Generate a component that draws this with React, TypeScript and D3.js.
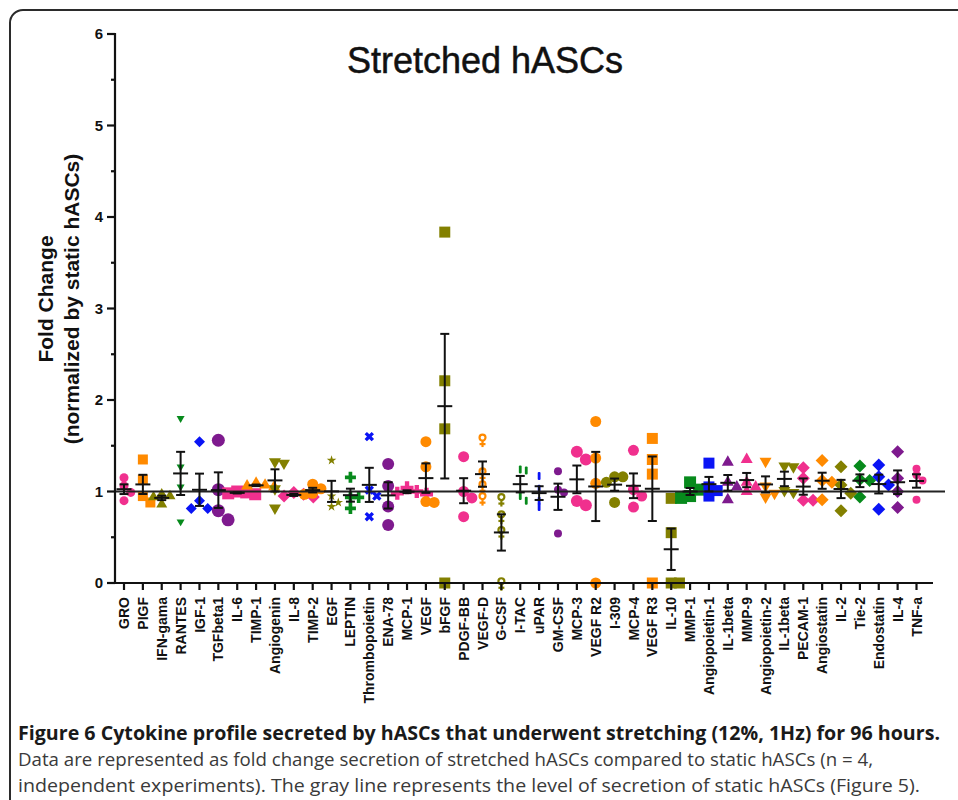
import * as d3 from "d3";

// 43 cytokines along the x axis (note IL-1beta appears twice in the original)
const CATEGORIES = [
  "GRO", "PIGF", "IFN-gama", "RANTES", "IGF-1", "TGFbeta1", "IL-6", "TIMP-1",
  "Angiogenin", "IL-8", "TIMP-2", "EGF", "LEPTIN", "Thrombopoietin", "ENA-78",
  "MCP-1", "VEGF", "bFGF", "PDGF-BB", "VEGF-D", "G-CSF", "I-TAC", "uPAR",
  "GM-CSF", "MCP-3", "VEGF R2", "I-309", "MCP-4", "VEGF R3", "IL-10", "MMP-1",
  "Angiopoietin-1", "IL-1beta", "MMP-9", "Angiopoietin-2", "IL-1beta", "PECAM-1",
  "Angiostatin", "IL-2", "Tie-2", "Endostatin", "IL-4", "TNF-a",
];

const FOLD_CHANGE: number[][] = [
  [1.15, 1.06, 0.9, 0.99],
  [1.35, 1.13, 0.88, 0.95],
  [0.97, 0.95, 0.94, 0.86],
  [1.8, 1.27, 1.05, 0.67],
  [1.545, 0.9, 0.815, 0.815],
  [1.56, 1.02, 0.79, 0.69],
  [0.99, 0.98, 0.97, 1.0],
  [1.09, 1.06, 1.07, 1.05],
  [1.31, 1.325, 1.03, 0.82],
  [0.99, 0.97, 0.95, 0.94],
  [1.08, 1.03, 0.98, 0.97],
  [1.34, 0.95, 0.835, 0.88],
  [1.155, 0.935, 0.935, 0.815],
  [1.6, 1.015, 0.95, 0.725],
  [1.3, 1.06, 0.835, 0.635],
  [1.04, 1.0, 0.97, 0.98],
  [1.545, 1.27, 0.88, 0.89],
  [3.835, 2.21, 1.685, 0],
  [1.38, 1.0, 0.93, 0.725],
  [1.57, 1.2, 1.06, 0.93],
  [0.92, 0.73, 0.56, 0],
  [1.24, 1.23, 0.95, 0.9],
  [1.17, 1.03, 0.9, 0.83],
  [1.22, 1.02, 0.99, 0.54],
  [1.435, 1.35, 0.85, 0.895],
  [1.765, 1.365, 1.09, 0],
  [1.16, 1.16, 1.1, 0.88],
  [1.45, 1.02, 0.95, 0.83],
  [1.58, 1.35, 1.19, 0],
  [0.925, 0.55, 0, 0],
  [1.1, 1.02, 0.95, 0.93],
  [1.31, 1.05, 1.01, 0.95],
  [1.32, 1.1, 1.05, 0.91],
  [1.35, 1.1, 1.05, 1.0],
  [1.33, 1.06, 0.98, 0.94],
  [1.28, 1.27, 1.01, 0.99],
  [1.26, 1.145, 0.905, 0.905],
  [1.34, 1.12, 1.1, 0.91],
  [1.27, 1.07, 0.98, 0.79],
  [1.28, 1.13, 1.12, 0.94],
  [1.29, 1.16, 1.07, 0.805],
  [1.435, 1.145, 1.0, 0.825],
  [1.25, 1.18, 1.12, 0.91],
];

const Y_TICKS = [0, 1, 2, 3, 4, 5, 6];
const BASELINE = 1;

const PINK = "#f0308e";
const ORANGE = "#ff8a00";
const OLIVE = "#838000";
const GREEN = "#078a1c";
const BLUE = "#0a14f5";
const PURPLE = "#7e1a8e";

const COLORS = [
  PINK, ORANGE, OLIVE, GREEN, BLUE, PURPLE, PINK, ORANGE, OLIVE, PINK, ORANGE,
  OLIVE, GREEN, BLUE, PURPLE, PINK, ORANGE, OLIVE, PINK, ORANGE, OLIVE, GREEN,
  BLUE, PURPLE, PINK, ORANGE, OLIVE, PINK, ORANGE, OLIVE, GREEN, BLUE, PURPLE,
  PINK, ORANGE, OLIVE, PINK, ORANGE, OLIVE, GREEN, BLUE, PURPLE, PINK,
];

type Shape = "circle" | "square" | "tri" | "triDown" | "diamond" | "star" | "plus" | "x" | "female" | "dash";

const SHAPES: Shape[] = [
  "circle", "square", "tri", "triDown", "diamond", "circle", "square", "tri",
  "triDown", "diamond", "circle", "star", "plus", "x", "circle", "plus", "circle",
  "square", "circle", "female", "female", "dash", "dash", "circle", "circle",
  "circle", "circle", "circle", "square", "square", "square", "square", "tri",
  "tri", "triDown", "triDown", "diamond", "diamond", "diamond", "diamond",
  "diamond", "diamond", "circle",
];

const SIZES = [
  9, 10, 11, 8, 11, 13, 12, 12, 12, 13, 11, 9, 11, 10, 12, 13, 11, 11, 11, 9, 9,
  8, 8, 8, 12, 11, 11, 11, 11, 11, 12, 11, 12, 12, 12, 12, 13, 13, 13, 13, 13, 13, 8,
];

const FONT = "'Liberation Sans', Arial, sans-serif";

const W = 958;
const H = 800;

const x = d3
  .scalePoint<string>()
  .domain(CATEGORIES.map((_, i) => String(i)))
  .range([124, 916.5]);

const y = d3.scaleLinear().domain([0, 6]).range([583, 34]);

const AXIS_LEFT = 115;
const AXIS_RIGHT = 933;

function markerPath(shape: Shape, s: number): string {
  switch (shape) {
    case "circle":
      return d3.symbol(d3.symbolCircle, (Math.PI * s * s) / 4)()!;
    case "square":
      return d3.symbol(d3.symbolSquare, s * s)()!;
    case "tri":
    case "triDown":
      return d3.symbol(d3.symbolTriangle, (Math.sqrt(3) / 4) * s * s)()!;
    case "diamond":
      return d3.symbol(d3.symbolSquare, (s * s) / 2)()!;
    case "star":
      return d3.symbol(d3.symbolStar, s * s * 0.35)()!;
    case "plus":
    case "x":
      return d3.symbol(d3.symbolCross, (5 * s * s) / 9)()!;
    default:
      return "";
  }
}

function rotation(shape: Shape) {
  if (shape === "triDown") return 180;
  if (shape === "diamond" || shape === "x") return 45;
  return 0;
}

// spread points that would overlap, like a column scatter plot
function swarm(values: number[], s: number) {
  const order = values.map((v, i) => ({ v, i })).sort((a, b) => b.v - a.v);
  const placed: { dx: number; py: number }[] = [];
  const step = s * 0.75;
  for (const { v } of order) {
    const py = y(v);
    let dx = 0;
    for (const k of [0, 1, -1, 2, -2, 3, -3]) {
      const cand = k * step;
      const hit = placed.some((p) => Math.abs(p.dx - cand) < step && Math.abs(p.py - py) < step);
      if (!hit) {
        dx = cand;
        break;
      }
    }
    placed.push({ dx, py });
  }
  return placed;
}

function Marker({ shape, color, s, cx, cy }: { shape: Shape; color: string; s: number; cx: number; cy: number }) {
  if (shape === "female") {
    const r = s * 0.33;
    return (
      <g transform={`translate(${cx},${cy})`} stroke={color} fill="none" strokeWidth={2.2}>
        <circle cx={0} cy={-r * 0.6} r={r} />
        <line x1={0} y1={r * 0.4} x2={0} y2={r * 2.6} />
        <line x1={-r} y1={r * 1.6} x2={r} y2={r * 1.6} />
      </g>
    );
  }
  if (shape === "dash") {
    return <rect x={cx - 1.4} y={cy - 4} width={2.8} height={8} rx={1} fill={color} />;
  }
  return (
    <path
      d={markerPath(shape, s)}
      transform={`translate(${cx},${cy}) rotate(${rotation(shape)})`}
      fill={color}
    />
  );
}

export default function App() {
  const yMinor = d3.range(0, 6.01, 0.5).filter((t) => !Number.isInteger(t));

  return (
    <svg
      width={W}
      height={H}
      viewBox={`0 0 ${W} ${H}`}
      style={{ position: "absolute", left: 0, top: 0, background: "#fff" }}
      fontFamily={FONT}
    >
      <rect x={10} y={10} width={980} height={830} rx={13} fill="#fff" stroke="#2b2b2b" strokeWidth={2} />

      <text x={485} y={73} textAnchor="middle" fontSize={36} fill="#111" stroke="#111" strokeWidth={0.5}>
        Stretched hASCs
      </text>

      {/* y axis title */}
      <g transform="translate(53,299) rotate(-90)">
        <text textAnchor="middle" fontSize={21} fontWeight="bold" fill="#111">
          Fold Change
        </text>
      </g>
      <g transform="translate(79,299) rotate(-90)">
        <text textAnchor="middle" fontSize={21} fontWeight="bold" fill="#111">
          (normalized by static hASCs)
        </text>
      </g>

      {/* points */}
      {FOLD_CHANGE.map((vals, ci) => {
        const cx = x(String(ci))!;
        const s = SIZES[ci];
        return (
          <g key={`pts-${ci}`}>
            {swarm(vals, s).map((p, pi) => (
              <Marker key={pi} shape={SHAPES[ci]} color={COLORS[ci]} s={s} cx={cx + p.dx} cy={p.py} />
            ))}
          </g>
        );
      })}

      {/* static level */}
      <line x1={AXIS_LEFT} x2={945} y1={y(BASELINE)} y2={y(BASELINE)} stroke="#222" strokeWidth={2} />

      {/* mean ± SEM */}
      {FOLD_CHANGE.map((vals, ci) => {
        const cx = x(String(ci))!;
        const m = d3.mean(vals)!;
        const sem = d3.deviation(vals)! / Math.sqrt(vals.length);
        return (
          <g key={`err-${ci}`} stroke="#111" strokeWidth={2} fill="none">
            <line x1={cx} x2={cx} y1={y(m + sem)} y2={y(m - sem)} />
            <line x1={cx - 4.5} x2={cx + 4.5} y1={y(m + sem)} y2={y(m + sem)} />
            <line x1={cx - 4.5} x2={cx + 4.5} y1={y(m - sem)} y2={y(m - sem)} />
            <line x1={cx - 7.5} x2={cx + 7.5} y1={y(m)} y2={y(m)} />
          </g>
        );
      })}

      {/* y axis */}
      <g stroke="#111" strokeWidth={2.2}>
        <line x1={AXIS_LEFT} x2={AXIS_LEFT} y1={y(6) - 1} y2={y(0) + 1} />
        {Y_TICKS.map((t) => (
          <line key={t} x1={AXIS_LEFT - 8} x2={AXIS_LEFT} y1={y(t)} y2={y(t)} />
        ))}
        {yMinor.map((t) => (
          <line key={t} x1={AXIS_LEFT - 4} x2={AXIS_LEFT} y1={y(t)} y2={y(t)} />
        ))}
      </g>
      {Y_TICKS.map((t) => (
        <text key={t} x={103} y={y(t)} dy="0.36em" textAnchor="end" fontSize={15} fontWeight="bold" fill="#111">
          {t}
        </text>
      ))}

      {/* x axis */}
      <g stroke="#111" strokeWidth={2.2}>
        <line x1={AXIS_LEFT - 1} x2={AXIS_RIGHT} y1={y(0)} y2={y(0)} />
        {CATEGORIES.map((_, ci) => (
          <line key={ci} x1={x(String(ci))!} x2={x(String(ci))!} y1={y(0)} y2={y(0) + 7} />
        ))}
      </g>
      {CATEGORIES.map((c, ci) => (
        <g key={ci} transform={`translate(${x(String(ci))},597) rotate(-90)`}>
          <text textAnchor="end" dy="0.36em" fontSize={14} fontWeight="bold" fill="#111">
            {c}
          </text>
        </g>
      ))}

      {/* caption */}
      <text
        x={18}
        y={740}
        fontFamily="'Open Sans', sans-serif"
        fontWeight="bold"
        fontSize={19}
        fill="#1a1a1a"
        textLength={922}
        lengthAdjust="spacingAndGlyphs"
      >
        Figure 6 Cytokine profile secreted by hASCs that underwent stretching (12%, 1Hz) for 96 hours.
      </text>
      <text
        x={18}
        y={766}
        fontFamily="'Open Sans', sans-serif"
        fontSize={18}
        fill="#3a3a3a"
        textLength={855}
        lengthAdjust="spacingAndGlyphs"
      >
        Data are represented as fold change secretion of stretched hASCs compared to static hASCs (n = 4,
      </text>
      <text
        x={18}
        y={792}
        fontFamily="'Open Sans', sans-serif"
        fontSize={18}
        fill="#3a3a3a"
        textLength={902}
        lengthAdjust="spacingAndGlyphs"
      >
        independent experiments). The gray line represents the level of secretion of static hASCs (Figure 5).
      </text>
    </svg>
  );
}
